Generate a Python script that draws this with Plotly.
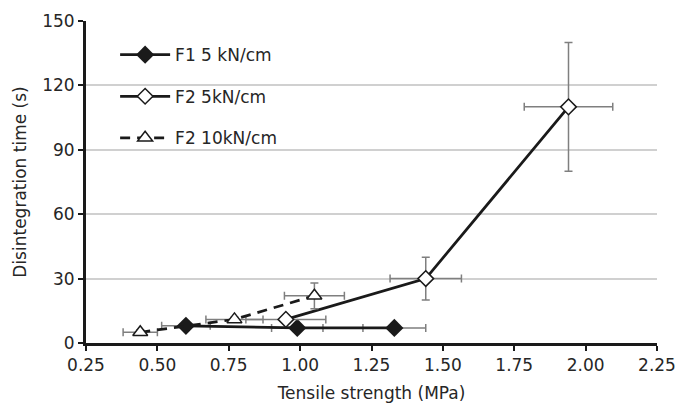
import plotly.graph_objects as go

# Tensile strength (MPa) vs disintegration time (s) for three tablet batches
f1_x = [0.60, 0.99, 1.33]
f1_y = [8, 7, 7]
f1_xerr = [0.085, 0.09, 0.11]
f1_yerr = [2, 1, 1]

f2a_x = [0.95, 1.44, 1.94]
f2a_y = [11, 30, 110]
f2a_xerr = [0.14, 0.125, 0.155]
f2a_yerr = [1, 10, 30]

f2b_x = [0.44, 0.77, 1.05]
f2b_y = [5, 11, 22]
f2b_xerr = [0.06, 0.10, 0.105]
f2b_yerr = [1, 1, 6]

series_names = ["F1 5 kN/cm", "F2 5kN/cm", "F2 10kN/cm"]
x_ticks = [0.25, 0.50, 0.75, 1.00, 1.25, 1.50, 1.75, 2.00, 2.25]
y_ticks = [0, 30, 60, 90, 120, 150]

FONT = "DejaVu Sans, sans-serif"
INK = "#1a1a1a"
ERR = dict(type="data", color="#7f7f7f", thickness=1.5, width=4)


def err(vals):
    return dict(ERR, array=vals)


fig = go.Figure()

fig.add_trace(go.Scatter(
    x=f1_x, y=f1_y, name=series_names[0], legendgroup="a",
    mode="lines+markers",
    line=dict(color=INK, width=2.75),
    marker=dict(symbol="diamond", size=14, color=INK),
    error_x=err(f1_xerr), error_y=err(f1_yerr),
))
fig.add_trace(go.Scatter(
    x=f2a_x, y=f2a_y, name=series_names[1], legendgroup="b",
    mode="lines+markers",
    line=dict(color=INK, width=2.75),
    marker=dict(symbol="diamond", size=12, color="white",
                line=dict(color=INK, width=1.5)),
    error_x=err(f2a_xerr), error_y=err(f2a_yerr),
))
fig.add_trace(go.Scatter(
    x=f2b_x, y=f2b_y, name=series_names[2], legendgroup="c",
    mode="lines+markers",
    line=dict(color=INK, width=2.75, dash="10px,7px"),
    marker=dict(symbol="triangle-up", size=13, color="white",
                line=dict(color=INK, width=1.5)),
    error_x=err(f2b_xerr), error_y=err(f2b_yerr),
))

fig.update_layout(
    width=677, height=405,
    margin=dict(l=86, r=20, t=21, b=62),
    paper_bgcolor="white", plot_bgcolor="white",
    font=dict(family=FONT, size=17, color="#262626"),
    showlegend=True,
    legend=dict(
        x=0.051, y=0.95, xanchor="left", yanchor="top",
        bgcolor="rgba(0,0,0,0)", tracegroupgap=16.5, itemwidth=50,
        font=dict(family=FONT, size=17, color="#262626"),
    ),
    xaxis=dict(
        range=[0.25, 2.25], tickvals=x_ticks, tickformat=".2f",
        showgrid=False, zeroline=False, automargin=False,
        showline=True, linecolor=INK, linewidth=3,
        ticks="outside", ticklen=5, tickwidth=2, tickcolor=INK,
        title=dict(text="Tensile strength (MPa)", font=dict(size=17), standoff=13),
        tickfont=dict(size=17),
    ),
    yaxis=dict(
        range=[0, 150], tickvals=y_ticks,
        showgrid=True, gridcolor="#d0d0d0", gridwidth=1.5,
        zeroline=False, automargin=False,
        showline=True, linecolor=INK, linewidth=3,
        ticks="outside", ticklen=5, tickwidth=2, tickcolor=INK,
        title=dict(text="Disintegration time (s)", font=dict(size=17), standoff=12),
        tickfont=dict(size=17),
    ),
)

fig.write_html("out.html")
